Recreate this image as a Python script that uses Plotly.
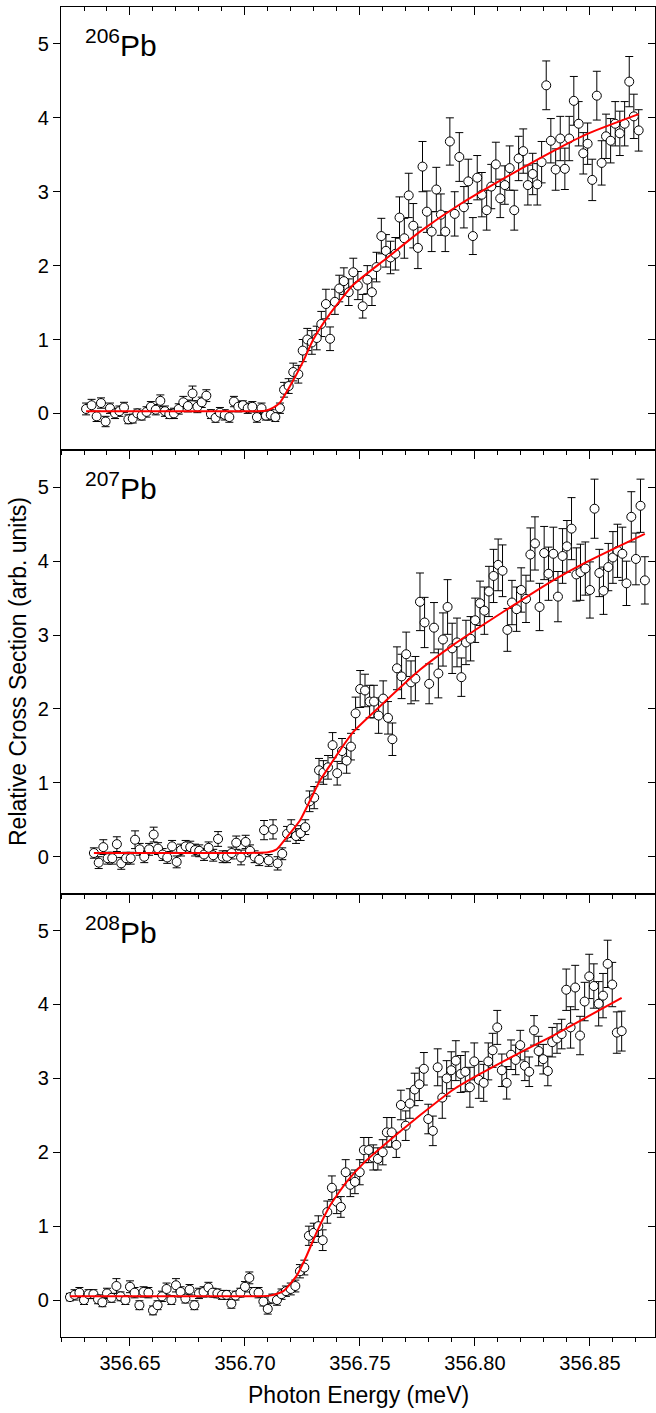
import plotly.graph_objects as go
from plotly.subplots import make_subplots

# ---------------- data: 206Pb ----------------
x_206 = [356.6309, 356.6333, 356.6355, 356.6374, 356.6394, 356.6413, 356.6435, 356.6454, 356.6474, 356.6493,
         356.6512, 356.6532, 356.6551, 356.6572, 356.6591, 356.6612, 356.6632, 356.6652, 356.6671, 356.6691,
         356.6712, 356.6732, 356.6752, 356.6772, 356.6793, 356.6812, 356.6832, 356.6852, 356.6872, 356.6891,
         356.6912, 356.6932, 356.6952, 356.6971, 356.6991, 356.7012, 356.7032, 356.7052, 356.7072, 356.7091,
         356.7112, 356.7132, 356.7152, 356.7170, 356.7190, 356.7210, 356.7232, 356.7251, 356.7271, 356.7291,
         356.7312, 356.7332, 356.7352, 356.7370,
         356.7391, 356.7410, 356.7430, 356.7451, 356.7471, 356.7491, 356.7512, 356.7532, 356.7552, 356.7572,
         356.7593, 356.7613, 356.7633, 356.7654, 356.7672, 356.7693, 356.7712, 356.7732, 356.7752, 356.7772,
         356.7791, 356.7812, 356.7832, 356.7852, 356.7871, 356.7891, 356.7912, 356.7932, 356.7952, 356.7971,
         356.7991, 356.8010, 356.8030, 356.8051, 356.8071, 356.8091, 356.8110, 356.8130, 356.8151, 356.8171,
         356.8190, 356.8210, 356.8230, 356.8251, 356.8271, 356.8290, 356.8310, 356.8330, 356.8351, 356.8371,
         356.8391, 356.8410, 356.8430, 356.8451, 356.8471, 356.8490, 356.8510, 356.8530, 356.8551, 356.8570,
         356.8590, 356.8610, 356.8630, 356.8651, 356.8671, 356.8691, 356.8712]
y_206 = [0.06, 0.11, -0.04, 0.14, -0.11, 0.07, 0.00, 0.03, 0.08, -0.08,
         -0.07, 0.00, -0.03, 0.02, 0.09, 0.05, 0.17, 0.03, -0.01, 0.00,
         0.06, 0.15, 0.10, 0.27, 0.09, 0.15, 0.24, -0.01, -0.06, 0.01,
         -0.02, -0.05, 0.16, 0.09, 0.11, 0.07, 0.09, -0.05, 0.07, -0.03,
         -0.02, -0.05, 0.07, 0.32, 0.37, 0.56, 0.53, 0.85, 1.00, 0.96,
         1.02, 1.21, 1.48, 1.01,
         1.51, 1.69, 1.79, 1.64, 1.91, 1.73, 1.45, 1.81, 1.64, 1.98,
         2.40, 2.20, 2.11, 2.16, 2.65, 2.37, 2.95, 2.54, 2.24, 3.34,
         2.73, 2.46, 3.03, 2.69, 2.46, 3.68, 2.70, 3.47, 2.79, 3.14,
         2.40, 3.19, 2.96, 2.75, 3.07, 3.37, 2.91, 3.09, 3.32, 2.75,
         3.45, 3.55, 3.09, 3.24, 3.10, 3.40, 4.44, 3.69, 3.30, 3.72,
         3.31, 3.72, 4.23, 3.92, 3.52, 3.65, 3.16, 4.30, 3.39, 3.75,
         3.69, 3.92, 3.79, 3.92, 4.49, 4.02, 3.83]
err_206 = [0.08, 0.08, 0.07, 0.07, 0.07, 0.07, 0.07, 0.07, 0.07, 0.06,
           0.06, 0.06, 0.06, 0.07, 0.07, 0.07, 0.08, 0.07, 0.06, 0.07,
           0.07, 0.08, 0.08, 0.10, 0.08, 0.07, 0.08, 0.06, 0.06, 0.07,
           0.07, 0.07, 0.07, 0.07, 0.06, 0.07, 0.07, 0.07, 0.07, 0.06,
           0.07, 0.06, 0.07, 0.10, 0.10, 0.12, 0.12, 0.15, 0.15, 0.16,
           0.16, 0.17, 0.20, 0.16,
           0.17, 0.18, 0.18, 0.18, 0.19, 0.19, 0.16, 0.19, 0.18, 0.20,
           0.24, 0.22, 0.22, 0.22, 0.28, 0.27, 0.30, 0.30, 0.28, 0.34,
           0.28, 0.27, 0.30, 0.28, 0.27, 0.32, 0.30, 0.33, 0.28, 0.30,
           0.25, 0.30, 0.30, 0.27, 0.30, 0.30, 0.26, 0.26, 0.30, 0.27,
           0.30, 0.30, 0.27, 0.28, 0.28, 0.28, 0.33, 0.30, 0.28, 0.30,
           0.28, 0.30, 0.33, 0.30, 0.28, 0.28, 0.28, 0.33, 0.30, 0.30,
           0.30, 0.30, 0.30, 0.30, 0.34, 0.30, 0.28]
fit_x_206 = [356.6309, 356.6800, 356.7050, 356.7094, 356.7125, 356.7152, 356.7196, 356.7251, 356.7297,
             356.7370, 356.7471, 356.7616, 356.7761, 356.7935, 356.8109, 356.8340, 356.8486, 356.8712]
fit_y_206 = [0.03, 0.03, 0.03, 0.04, 0.08, 0.145, 0.37, 0.69, 1.00,
             1.35, 1.74, 2.10, 2.46, 2.83, 3.15, 3.55, 3.78, 4.05]

# ---------------- data: 207Pb ----------------
x_207 = [356.6343, 356.6364, 356.6384, 356.6403, 356.6423, 356.6443, 356.6462, 356.6483, 356.6503, 356.6522,
         356.6542, 356.6562, 356.6583, 356.6603, 356.6622, 356.6642, 356.6662, 356.6683, 356.6703, 356.6722,
         356.6742, 356.6762, 356.6783, 356.6801, 356.6822, 356.6842, 356.6862, 356.6883, 356.6903, 356.6922,
         356.6942, 356.6962, 356.6983, 356.7003, 356.7022, 356.7042, 356.7062, 356.7083, 356.7103, 356.7122,
         356.7142, 356.7162, 356.7183, 356.7201, 356.7222, 356.7242, 356.7262, 356.7281, 356.7301, 356.7322,
         356.7341, 356.7361,
         356.7381, 356.7401, 356.7422, 356.7442, 356.7461, 356.7481, 356.7501, 356.7522, 356.7542, 356.7561,
         356.7581, 356.7601, 356.7622, 356.7641, 356.7661, 356.7681, 356.7701, 356.7722, 356.7741, 356.7761,
         356.7781, 356.7801, 356.7822, 356.7841, 356.7861, 356.7881, 356.7901, 356.7922, 356.7941, 356.7961,
         356.7981, 356.8001, 356.8022, 356.8041, 356.8061, 356.8081, 356.8101, 356.8120, 356.8141, 356.8161,
         356.8181, 356.8201, 356.8222, 356.8241, 356.8261, 356.8281, 356.8301, 356.8320, 356.8341, 356.8361,
         356.8381, 356.8400, 356.8420, 356.8441, 356.8459, 356.8480, 356.8500, 356.8520, 356.8541, 356.8559,
         356.8580, 356.8600, 356.8620, 356.8641, 356.8659, 356.8680, 356.8700, 356.8720, 356.8739]
y_207 = [0.05, -0.08, 0.13, -0.02, -0.02, 0.17, -0.09, -0.02, -0.02, 0.23,
         0.10, 0.00, 0.10, 0.30, 0.11, 0.03, -0.01, 0.14, -0.07, 0.09,
         0.14, 0.13, 0.09, 0.08, 0.03, 0.12, 0.02, 0.24, 0.00, 0.00,
         0.05, 0.19, -0.01, 0.20, 0.08, 0.00, -0.04, 0.36, -0.05, 0.37,
         -0.09, 0.04, 0.31, 0.38, 0.28, 0.32, 0.40, 0.75, 0.80, 1.17,
         1.14, 1.21,
         1.51, 1.13, 1.43, 1.30, 1.49, 1.94, 2.27, 2.25, 2.10, 2.10,
         1.91, 2.14, 1.88, 1.59, 2.55, 2.44, 2.74, 2.36, 2.41, 3.45,
         3.17, 2.34, 3.10, 2.48, 2.94, 3.38, 2.82, 2.90, 2.43, 2.90,
         2.95, 3.20, 3.43, 3.33, 3.59, 3.80, 3.95, 3.87, 3.07, 3.44,
         3.35, 3.61, 3.49, 4.09, 4.24, 3.38, 4.11, 3.83, 4.10, 3.52,
         4.07, 4.20, 4.44, 3.82, 3.85, 3.90, 3.61, 4.71, 3.84, 3.60,
         3.92, 4.05, 4.14, 4.10, 3.70, 4.60, 4.03, 4.75, 3.74]
err_207 = [0.07, 0.08, 0.10, 0.08, 0.08, 0.10, 0.08, 0.08, 0.08, 0.12,
           0.08, 0.08, 0.08, 0.10, 0.08, 0.08, 0.08, 0.08, 0.08, 0.08,
           0.08, 0.08, 0.08, 0.08, 0.08, 0.08, 0.08, 0.10, 0.08, 0.08,
           0.08, 0.09, 0.10, 0.09, 0.08, 0.08, 0.08, 0.13, 0.08, 0.13,
           0.09, 0.08, 0.10, 0.12, 0.10, 0.10, 0.10, 0.14, 0.15, 0.16,
           0.16, 0.16,
           0.17, 0.16, 0.17, 0.17, 0.18, 0.22, 0.25, 0.22, 0.22, 0.22,
           0.24, 0.24, 0.22, 0.22, 0.29, 0.30, 0.30, 0.29, 0.30, 0.39,
           0.34, 0.27, 0.34, 0.33, 0.36, 0.37, 0.34, 0.33, 0.26, 0.30,
           0.30, 0.30, 0.30, 0.32, 0.34, 0.36, 0.35, 0.35, 0.29, 0.30,
           0.30, 0.30, 0.32, 0.36, 0.36, 0.32, 0.36, 0.36, 0.36, 0.34,
           0.37, 0.35, 0.42, 0.36, 0.38, 0.36, 0.38, 0.40, 0.32, 0.32,
           0.32, 0.35, 0.36, 0.36, 0.30, 0.34, 0.35, 0.36, 0.32]
fit_x_207 = [356.6343, 356.7000, 356.7100, 356.7138, 356.7181, 356.7239, 356.7283, 356.7326, 356.7370,
             356.7413, 356.7471, 356.7616, 356.7761, 356.7907, 356.8051, 356.8196, 356.8340, 356.8486, 356.8739]
fit_y_207 = [0.05, 0.05, 0.06, 0.10, 0.26, 0.49, 0.76, 1.03, 1.24,
             1.44, 1.69, 2.12, 2.53, 2.87, 3.17, 3.46, 3.74, 3.99, 4.37]

# ---------------- data: 208Pb ----------------
x_208 = [356.6239, 356.6259, 356.6280, 356.6300, 356.6320, 356.6341, 356.6361, 356.6380, 356.6400, 356.6420,
         356.6441, 356.6459, 356.6480, 356.6500, 356.6520, 356.6541, 356.6559, 356.6580, 356.6600, 356.6620,
         356.6639, 356.6659, 356.6680, 356.6700, 356.6720, 356.6741, 356.6759, 356.6780, 356.6800, 356.6820,
         356.6841, 356.6859, 356.6880, 356.6900, 356.6920, 356.6941, 356.6959, 356.6980, 356.7000, 356.7019,
         356.7039, 356.7059, 356.7080, 356.7099, 356.7119, 356.7139, 356.7159, 356.7178, 356.7199, 356.7219,
         356.7239, 356.7258, 356.7278, 356.7299, 356.7319, 356.7338, 356.7358,
         356.7378, 356.7399, 356.7417, 356.7438, 356.7458, 356.7478, 356.7499, 356.7517, 356.7538, 356.7558,
         356.7578, 356.7599, 356.7617, 356.7638, 356.7658, 356.7678, 356.7699, 356.7717, 356.7738, 356.7758,
         356.7778, 356.7797, 356.7817, 356.7838, 356.7858, 356.7877, 356.7897, 356.7917, 356.7938, 356.7958,
         356.7978, 356.7997, 356.8017, 356.8038, 356.8058, 356.8077, 356.8097, 356.8117, 356.8138, 356.8157,
         356.8177, 356.8197, 356.8217, 356.8236, 356.8257, 356.8277, 356.8297, 356.8317, 356.8336, 356.8357,
         356.8377, 356.8397, 356.8416, 356.8436, 356.8457, 356.8477, 356.8497, 356.8517, 356.8538, 356.8557,
         356.8577, 356.8597, 356.8617, 356.8638]
y_208 = [0.04, 0.07, 0.10, 0.00, 0.08, 0.08, 0.01, -0.03, 0.09, 0.03,
         0.19, 0.05, 0.00, 0.18, 0.10, -0.07, 0.11, 0.10, -0.14, -0.07,
         0.05, 0.15, 0.00, 0.20, 0.11, 0.02, 0.14, -0.07, 0.09, 0.11,
         0.17, 0.10, 0.09, 0.07, 0.07, -0.05, 0.06, 0.10, 0.18, 0.30,
         0.11, 0.10, -0.02, -0.12, 0.02, 0.00, 0.08, 0.12, 0.15, 0.19,
         0.39, 0.44, 0.87, 0.91, 1.00, 0.81, 1.19,
         1.52, 1.33, 1.26, 1.73, 1.56, 1.60, 1.73, 2.03, 2.03, 1.93,
         1.91, 2.00, 2.27, 2.27, 2.10, 2.64, 2.36, 2.66, 2.85, 2.92,
         3.13, 2.45, 2.29, 3.15, 2.74, 3.00, 3.11, 3.24, 3.06, 3.09,
         2.88, 3.23, 2.98, 2.94, 3.23, 3.38, 3.69, 3.11, 2.94, 3.32,
         3.25, 3.45, 3.17, 3.09, 3.65, 3.37, 3.26, 3.10, 3.49, 3.54,
         3.60, 4.20, 3.69, 4.23, 3.58, 4.04, 4.38, 4.25, 4.01, 4.12,
         4.55, 4.27, 3.62, 3.64]
err_208 = [0.05, 0.07, 0.07, 0.06, 0.06, 0.06, 0.06, 0.06, 0.07, 0.06,
           0.10, 0.06, 0.06, 0.08, 0.07, 0.06, 0.07, 0.07, 0.06, 0.06,
           0.07, 0.08, 0.06, 0.09, 0.07, 0.06, 0.07, 0.06, 0.07, 0.07,
           0.07, 0.06, 0.06, 0.06, 0.06, 0.06, 0.06, 0.06, 0.07, 0.08,
           0.06, 0.07, 0.06, 0.07, 0.06, 0.07, 0.07, 0.07, 0.08, 0.08,
           0.09, 0.10, 0.13, 0.13, 0.14, 0.14, 0.15,
           0.16, 0.16, 0.14, 0.17, 0.16, 0.16, 0.17, 0.17, 0.17, 0.17,
           0.15, 0.17, 0.20, 0.20, 0.17, 0.20, 0.20, 0.20, 0.22, 0.22,
           0.22, 0.20, 0.20, 0.25, 0.28, 0.24, 0.25, 0.27, 0.25, 0.27,
           0.27, 0.25, 0.25, 0.25, 0.25, 0.23, 0.23, 0.22, 0.22, 0.20,
           0.20, 0.20, 0.20, 0.20, 0.20, 0.20, 0.20, 0.20, 0.20, 0.20,
           0.20, 0.28, 0.28, 0.30, 0.26, 0.26, 0.30, 0.30, 0.30, 0.30,
           0.32, 0.30, 0.28, 0.27]
fit_x_208 = [356.6239, 356.7000, 356.7109, 356.7167, 356.7225, 356.7268, 356.7312, 356.7370, 356.7442,
             356.7515, 356.7587, 356.7761, 356.7907, 356.8022, 356.8196, 356.8340, 356.8486, 356.8638]
fit_y_208 = [0.05, 0.05, 0.06, 0.12, 0.33, 0.60, 0.92, 1.28, 1.60,
             1.85, 2.05, 2.50, 2.85, 3.06, 3.35, 3.58, 3.83, 4.09]

labels = ["<sup>206</sup>Pb", "<sup>207</sup>Pb", "<sup>208</sup>Pb"]
panels = [(x_206, y_206, err_206, fit_x_206, fit_y_206),
          (x_207, y_207, err_207, fit_x_207, fit_y_207),
          (x_208, y_208, err_208, fit_x_208, fit_y_208)]

x_range = [356.62, 356.8783]
y_range = [-0.5, 5.5]
FONT = "Liberation Sans, Arial, Helvetica, sans-serif"
W, H = 656, 1413
ML, MR, MT, MB = 61, 1, 7, 76

fig = make_subplots(rows=3, cols=1, shared_xaxes=True, vertical_spacing=0)

for i, (xs, ys, es, fx, fy) in enumerate(panels):
    r = i + 1
    fig.add_trace(go.Scatter(
        x=xs, y=ys, mode="markers",
        marker=dict(symbol="circle", size=9, color="white",
                    line=dict(color="black", width=1)),
        error_y=dict(type="data", array=es, visible=True, color="black",
                     thickness=1, width=4),
        showlegend=False, hoverinfo="skip"), row=r, col=1)
    fig.add_trace(go.Scatter(
        x=fx, y=fy, mode="lines", line=dict(color="#ff0000", width=2, shape="spline", smoothing=0.5),
        showlegend=False, hoverinfo="skip"), row=r, col=1)

axis_common = dict(showline=True, linecolor="black", linewidth=1.3, mirror=True,
                   showgrid=False, zeroline=False, tickcolor="black", tickwidth=1.3,
                   tickfont=dict(family=FONT, size=20, color="black"))

for r in range(1, 4):
    fig.update_xaxes(row=r, col=1, range=x_range, ticks="outside", ticklen=8,
                     tick0=356.65, dtick=0.05, tickformat=".2f",
                     minor=dict(dtick=0.01, tick0=356.65, ticks="outside", ticklen=4,
                                tickcolor="black", tickwidth=1.3),
                     showticklabels=(r == 3), **axis_common)
    fig.update_yaxes(row=r, col=1, range=y_range, ticks="outside", ticklen=7,
                     tick0=0, dtick=1, **axis_common)

# inward mirror ticks on top and right of each panel
for r in range(1, 4):
    n = r + 3
    xa = "x" if r == 1 else f"x{r}"
    ya = "y" if r == 1 else f"y{r}"
    fig.layout[f"xaxis{n}"] = dict(
        overlaying=xa, anchor=ya, side="top", range=x_range, ticks="inside", ticklen=8,
        tickwidth=1.3, tickcolor="black", tick0=356.65, dtick=0.05, showticklabels=False,
        showgrid=False, zeroline=False, showline=False,
        minor=dict(dtick=0.01, tick0=356.65, ticks="inside", ticklen=4,
                   tickcolor="black", tickwidth=1.3))
    fig.layout[f"yaxis{n}"] = dict(
        overlaying=ya, anchor=xa, side="right", range=y_range, ticks="inside", ticklen=7,
        tickwidth=1.3, tickcolor="black", tick0=0, dtick=1, showticklabels=False,
        showgrid=False, zeroline=False, showline=False)
    fig.add_trace(go.Scatter(x=[None], y=[None], xaxis=f"x{n}", yaxis=f"y{n}",
                             showlegend=False, hoverinfo="skip", mode="markers"))

plot_h = H - MT - MB
annotations = []
for i, lab in enumerate(labels):
    top_px = MT + i * plot_h / 3 + 15
    annotations.append(dict(
        text=lab, xref="paper", yref="paper",
        x=(83 - ML) / (W - ML - MR), y=1 - (top_px - MT) / plot_h,
        xanchor="left", yanchor="top", showarrow=False,
        font=dict(family=FONT, size=30, color="black")))

annotations.append(dict(
    text="Relative Cross Section (arb. units)", xref="paper", yref="paper",
    x=(18 - ML) / (W - ML - MR), y=0.5, xanchor="center", yanchor="middle",
    textangle=-90, showarrow=False, font=dict(family=FONT, size=23, color="black")))
annotations.append(dict(
    text="Photon Energy (meV)", xref="paper", yref="paper",
    x=0.5, y=-(1395 - (H - MB)) / plot_h, xanchor="center", yanchor="middle",
    showarrow=False, font=dict(family=FONT, size=23, color="black")))

fig.update_layout(
    width=W, height=H, margin=dict(l=ML, r=MR, t=MT, b=MB),
    plot_bgcolor="white", paper_bgcolor="white",
    font=dict(family=FONT, color="black"),
    annotations=annotations, showlegend=False)

fig.write_html("out.html", config={"displayModeBar": False},
               post_script="document.body.style.margin='0px';document.body.style.padding='0px';")
